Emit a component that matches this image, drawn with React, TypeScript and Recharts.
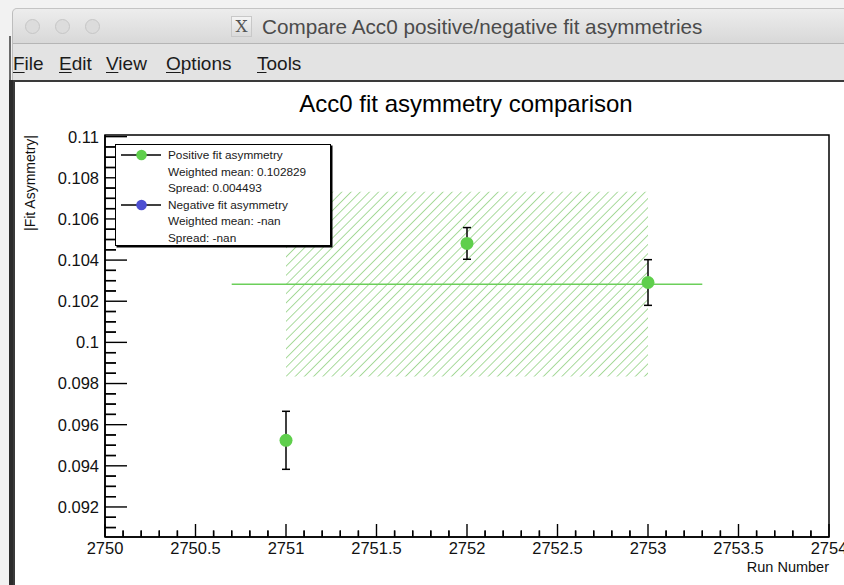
import React from 'react';
import {
  ComposedChart,
  XAxis,
  YAxis,
  Scatter,
  ErrorBar,
  ReferenceArea,
  ReferenceLine,
  Legend,
} from 'recharts';

// ---------- data ----------
const runNumbers = [2751, 2752, 2753];
const positiveAsymmetry = [0.09524, 0.10481, 0.10291];
const positiveError = [0.00141, 0.00077, 0.00111];
const negativeRuns: number[] = [];
const negativeAsymmetry: number[] = [];

const seriesNames = ['Positive fit asymmetry', 'Negative fit asymmetry'];
const seriesColors = ['#5fcf4c', '#4d4fd2'];
const meanLabels = ['0.102829', '-nan'];
const spreadLabels = ['0.004493', '-nan'];

const weightedMean = 0.102829;
const spread = 0.004493;
const meanLineRuns = [2750.7, 2753.3];
const bandRuns = [2751, 2753];

const xDomain = [2750, 2754];
const yDomain = [0.09054, 0.11008];

const xMajorTicks = [2750, 2750.5, 2751, 2751.5, 2752, 2752.5, 2753, 2753.5, 2754];
const xTickLabels = ['2750', '2750.5', '2751', '2751.5', '2752', '2752.5', '2753', '2753.5', '2754'];
const yMajorTicks = [0.092, 0.094, 0.096, 0.098, 0.1, 0.102, 0.104, 0.106, 0.108, 0.11];
const yTickLabels = ['0.092', '0.094', '0.096', '0.098', '0.1', '0.102', '0.104', '0.106', '0.108', '0.11'];

// minor tick positions (axis decoration)
const xMinorTicks: number[] = [];
for (let i = 0; i <= 40; i++) {
  const v = Math.round((2750 + i * 0.1) * 10) / 10;
  if (!xMajorTicks.some((t) => Math.abs(t - v) < 1e-6)) xMinorTicks.push(v);
}
const yMinorTicks: number[] = [];
for (let i = 0; i <= 40; i++) {
  const v = Math.round((0.091 + i * 0.0005) * 10000) / 10000;
  if (v > 0.1101) break;
  if (!yMajorTicks.some((t) => Math.abs(t - v) < 1e-7)) yMinorTicks.push(v);
}

const positivePoints = runNumbers.map((x, i) => ({ x, y: positiveAsymmetry[i], err: positiveError[i] }));
const negativePoints = negativeRuns.map((x, i) => ({ x, y: negativeAsymmetry[i], err: 0 }));
// anchor points for minor tick marks on the frame edges
const xMinorAnchors = xMinorTicks.map((t) => ({ x: t, y: yDomain[0] }));
const yMinorAnchors = yMinorTicks.map((t) => ({ x: xDomain[0], y: t }));

const FONT = '"Liberation Sans", Arial, Helvetica, sans-serif';

// chart geometry
const CHART_W = 844;
const CHART_H = 585;
const MARGIN = { top: 135, right: 15, bottom: 48, left: 105 };
const PLOT_LEFT = MARGIN.left;
const PLOT_BOTTOM = CHART_H - MARGIN.bottom;

// ---------- axis tick labels ----------
const YTickLabel = (props: any) => {
  const { y, payload } = props;
  const idx = yMajorTicks.findIndex((t) => Math.abs(t - payload.value) < 1e-7);
  if (idx < 0) return <g />;
  return (
    <text x={PLOT_LEFT - 6} y={y} dy="0.36em" textAnchor="end" fontSize={16.5} fontFamily={FONT} fill="#111">
      {yTickLabels[idx]}
    </text>
  );
};

const XTickLabel = (props: any) => {
  const { x, payload } = props;
  const idx = xMajorTicks.findIndex((t) => Math.abs(t - payload.value) < 1e-6);
  if (idx < 0) return <g />;
  return (
    <text x={x} y={PLOT_BOTTOM + 17} textAnchor="middle" fontSize={16.5} fontFamily={FONT} fill="#111">
      {xTickLabels[idx]}
    </text>
  );
};

const NoLabel = () => <g />;

// minor tick shapes drawn at scatter anchors
const XMinorMark = (props: any) => {
  const { cx, cy } = props;
  if (cx == null || cy == null) return <g />;
  return <line x1={cx} x2={cx} y1={cy} y2={cy - 6.5} stroke="#000" strokeWidth={1.4} />;
};
const YMinorMark = (props: any) => {
  const { cx, cy } = props;
  if (cx == null || cy == null) return <g />;
  return <line x1={cx} x2={cx + 11} y1={cy} y2={cy} stroke="#000" strokeWidth={1.4} />;
};

// ---------- legend ----------
const LegendBox = () => {
  const rows: any[] = [];
  seriesNames.forEach((name, i) => {
    rows.push({ text: name, marker: seriesColors[i] });
    rows.push({ text: 'Weighted mean: ' + meanLabels[i] });
    rows.push({ text: 'Spread: ' + spreadLabels[i] });
  });
  return (
    <div
      style={{
        width: 216,
        height: 102,
        boxSizing: 'border-box',
        border: '1px solid #000',
        boxShadow: '1.5px 1.5px 0 #000',
        background: '#fff',
        position: 'relative',
        fontFamily: FONT,
        fontSize: 11.8,
        color: '#1a1a1a',
      }}
    >
      {rows.map((r, k) => (
        <div key={k} style={{ position: 'absolute', left: 0, top: 10 + k * 16.5 - 8, height: 16, width: 214 }}>
          {r.marker && (
            <svg width={50} height={16} style={{ position: 'absolute', left: 0, top: 0 }}>
              <line x1={5} x2={45} y1={8} y2={8} stroke="#000" strokeWidth={1.5} />
              <circle cx={25.5} cy={8} r={5.3} fill={r.marker} />
            </svg>
          )}
          <span style={{ position: 'absolute', left: 52, top: 0, lineHeight: '16px', whiteSpace: 'nowrap' }}>{r.text}</span>
        </div>
      ))}
    </div>
  );
};

const Dot = (props: any) => {
  const { cx, cy, fill } = props;
  if (cx == null || cy == null) return null;
  return <circle cx={cx} cy={cy} r={6.5} fill={fill} />;
};

// ---------- window chrome ----------
const Chrome = () => {
  const menu = [
    { label: 'File', x: 13 },
    { label: 'Edit', x: 59 },
    { label: 'View', x: 106 },
    { label: 'Options', x: 166 },
    { label: 'Tools', x: 257 },
  ];
  return (
    <>
      <div
        style={{
          position: 'absolute',
          left: 12,
          top: 8,
          width: 850,
          height: 600,
          background: '#e4e4e4',
          borderTopLeftRadius: 5,
          borderTop: '1px solid #c4c4c4',
          borderLeft: '1px solid #bdbdbd',
        }}
      />
      <div
        style={{
          position: 'absolute',
          left: 13,
          top: 9,
          width: 840,
          height: 34,
          borderTopLeftRadius: 5,
          background: 'linear-gradient(#ededed, #d8d8d8)',
          borderBottom: '1px solid #b5b5b5',
        }}
      />
      {[32, 62, 92].map((cx) => (
        <div
          key={cx}
          style={{
            position: 'absolute',
            left: cx - 7,
            top: 19,
            width: 13,
            height: 13,
            borderRadius: '50%',
            background: '#dcdcdc',
            border: '1px solid #c6c6c6',
          }}
        />
      ))}
      <div
        style={{
          position: 'absolute',
          left: 231,
          top: 16,
          width: 21,
          height: 21,
          background: 'linear-gradient(#f4f4f4,#dadada)',
          border: '1px solid #c8c8c8',
          boxSizing: 'border-box',
          fontFamily: '"DejaVu Serif", serif',
          fontSize: 17,
          lineHeight: '19px',
          textAlign: 'center',
          color: '#555',
        }}
      >
        X
      </div>
      <div
        style={{
          position: 'absolute',
          left: 262,
          top: 14,
          fontFamily: FONT,
          fontSize: 20.7,
          lineHeight: '26px',
          color: '#4b4b4b',
          whiteSpace: 'nowrap',
        }}
      >
        Compare Acc0 positive/negative fit asymmetries
      </div>
      <div style={{ position: 'absolute', left: 13, top: 44, width: 840, height: 37, background: '#e3e3e3' }} />
      {menu.map((m) => (
        <div
          key={m.label}
          style={{
            position: 'absolute',
            left: m.x,
            top: 51,
            fontFamily: FONT,
            fontSize: 19,
            lineHeight: '26px',
            color: '#1b1b1b',
            whiteSpace: 'nowrap',
          }}
        >
          <span style={{ textDecoration: 'underline', textUnderlineOffset: 2 }}>{m.label[0]}</span>
          {m.label.slice(1)}
        </div>
      ))}
      <div
        style={{
          position: 'absolute',
          left: 13,
          top: 80,
          width: 840,
          height: 520,
          background: '#fff',
          borderTop: '2px solid #3a3a3a',
          borderLeft: '2px solid #3a3a3a',
        }}
      />
      <div style={{ position: 'absolute', left: 9, top: 80, width: 4, height: 510, background: '#2c2c2c' }} />
      <div style={{ position: 'absolute', left: 9, top: 36, width: 2, height: 44, background: '#6a6a6a' }} />
      <div
        style={{
          position: 'absolute',
          left: 0,
          width: 932,
          top: 89,
          textAlign: 'center',
          fontFamily: FONT,
          fontSize: 24,
          lineHeight: '30px',
          color: '#000',
          whiteSpace: 'nowrap',
        }}
      >
        Acc0 fit asymmetry comparison
      </div>
    </>
  );
};

export default function App() {
  return (
    <div
      style={{
        position: 'absolute',
        left: 0,
        top: 0,
        width: CHART_W,
        height: CHART_H,
        overflow: 'hidden',
        background: '#f2f2f2',
      }}
    >
      <Chrome />
      <div style={{ position: 'absolute', left: 0, top: 0 }}>
        <ComposedChart width={CHART_W} height={CHART_H} margin={MARGIN}>
          <defs>
            <pattern id="hatch" patternUnits="userSpaceOnUse" width={6.5} height={6.5} patternTransform="rotate(45)">
              <line x1={0} y1={0} x2={0} y2={6.5} stroke="#6fc25b" strokeWidth={1.2} />
            </pattern>
          </defs>
          <XAxis
            type="number"
            dataKey="x"
            domain={xDomain}
            ticks={xMajorTicks}
            interval={0}
            allowDataOverflow
            mirror
            height={0.01}
            tickSize={13}
            tickLine={{ stroke: '#000', strokeWidth: 1.4 }}
            axisLine={{ stroke: '#000', strokeWidth: 1.6 }}
            tick={<XTickLabel />}
            label={{
              content: (p: any) => {
                const vb = p.viewBox || {};
                return (
                  <text
                    x={(vb.x || 0) + (vb.width || 0)}
                    y={PLOT_BOTTOM + 35}
                    textAnchor="end"
                    fontSize={14.5}
                    fontFamily={FONT}
                    fill="#111"
                  >
                    Run Number
                  </text>
                );
              },
            }}
          />
          <XAxis
            xAxisId="minor"
            type="number"
            dataKey="x"
            domain={xDomain}
            ticks={xMinorTicks}
            interval={0}
            allowDataOverflow
            mirror
            height={30}
            tickSize={6.5}
            tickLine={{ stroke: '#000', strokeWidth: 1.4 }}
            axisLine={false}
            tick={<NoLabel />}
          />
          <YAxis
            type="number"
            dataKey="y"
            domain={yDomain}
            ticks={yMajorTicks}
            interval={0}
            allowDataOverflow
            mirror
            width={0.01}
            tickSize={22}
            tickLine={{ stroke: '#000', strokeWidth: 1.4 }}
            axisLine={{ stroke: '#000', strokeWidth: 1.6 }}
            tick={<YTickLabel />}
            label={{
              content: (p: any) => {
                const vb = p.viewBox || {};
                const tx = PLOT_LEFT - 70;
                const ty = vb.y || MARGIN.top;
                return (
                  <text
                    x={tx}
                    y={ty}
                    transform={`rotate(-90 ${tx} ${ty})`}
                    textAnchor="end"
                    fontSize={14}
                    fontFamily={FONT}
                    fill="#111"
                  >
                    |Fit Asymmetry|
                  </text>
                );
              },
            }}
          />
          <YAxis
            yAxisId="minor"
            type="number"
            dataKey="y"
            domain={yDomain}
            ticks={yMinorTicks}
            interval={0}
            allowDataOverflow
            mirror
            width={60}
            tickSize={11}
            tickLine={{ stroke: '#000', strokeWidth: 1.4 }}
            axisLine={false}
            tick={<NoLabel />}
          />
          <ReferenceArea
            x1={bandRuns[0]}
            x2={bandRuns[1]}
            y1={weightedMean - spread}
            y2={weightedMean + spread}
            fill="url(#hatch)"
            fillOpacity={1}
            stroke="none"
            ifOverflow="visible"
          />
          <ReferenceLine
            segment={[
              { x: meanLineRuns[0], y: weightedMean },
              { x: meanLineRuns[1], y: weightedMean },
            ]}
            stroke="#6ccf5a"
            strokeWidth={1.6}
            ifOverflow="visible"
          />
          <ReferenceArea
            x1={xDomain[0]}
            x2={xDomain[1]}
            y1={yDomain[0]}
            y2={yDomain[1]}
            fill="none"
            stroke="#000"
            strokeWidth={1.5}
            ifOverflow="visible"
          />
          {/* minor tick marks placed through the axis scales */}
          <Scatter
            name="xMinorTicks"
            legendType="none"
            data={xMinorAnchors}
            fill="#000"
            shape={<XMinorMark />}
            isAnimationActive={false}
          />
          <Scatter
            name="yMinorTicks"
            legendType="none"
            data={yMinorAnchors}
            fill="#000"
            shape={<YMinorMark />}
            isAnimationActive={false}
          />
          <Scatter
            name={seriesNames[0]}
            data={positivePoints}
            fill={seriesColors[0]}
            shape={<Dot />}
            isAnimationActive={false}
          >
            <ErrorBar dataKey="err" direction="y" width={4} stroke="#000" strokeWidth={1.5} />
          </Scatter>
          <Scatter
            name={seriesNames[1]}
            data={negativePoints}
            fill={seriesColors[1]}
            shape={<Dot />}
            isAnimationActive={false}
          />
          <Legend
            layout="vertical"
            align="center"
            verticalAlign="middle"
            content={<LegendBox />}
            wrapperStyle={{ left: 115, top: 144, width: 216, height: 102 }}
          />
        </ComposedChart>
      </div>
    </div>
  );
}
